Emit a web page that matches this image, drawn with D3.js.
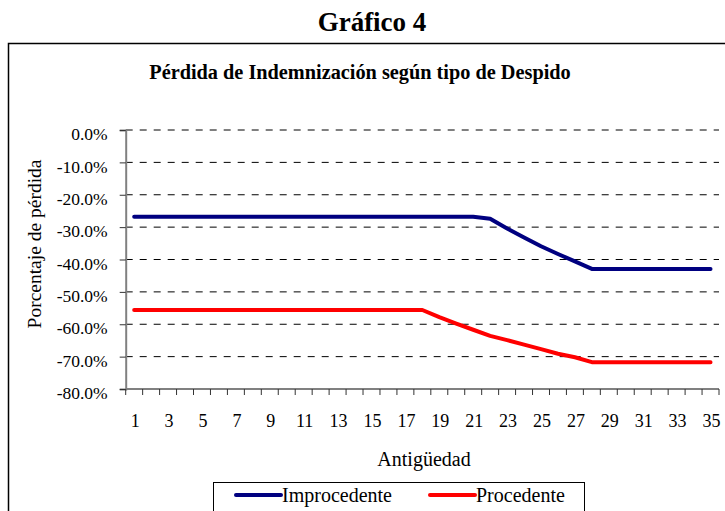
<!DOCTYPE html>
<html><head><meta charset="utf-8">
<script src="https://cdn.jsdelivr.net/npm/d3@7/dist/d3.min.js"></script>
<style>body{margin:0;background:#fff}svg{display:block}text{font-family:"Liberation Serif","Times New Roman",serif}</style>
</head><body>
<svg id="c" width="725" height="511"></svg>
<script>
const categories = d3.range(1, 36);
const improcedente = [-26.8,-26.8,-26.8,-26.8,-26.8,-26.8,-26.8,-26.8,-26.8,-26.8,-26.8,-26.8,-26.8,-26.8,-26.8,-26.8,-26.8,-26.8,-26.8,-26.8,-26.8,-27.4,-30.4,-33.2,-35.9,-38.3,-40.6,-42.9,-42.9,-42.9,-42.9,-42.9,-42.9,-42.9,-42.9];
const procedente = [-55.6,-55.6,-55.6,-55.6,-55.6,-55.6,-55.6,-55.6,-55.6,-55.6,-55.6,-55.6,-55.6,-55.6,-55.6,-55.6,-55.6,-55.6,-57.8,-59.8,-61.7,-63.6,-64.9,-66.3,-67.7,-69.1,-70.2,-71.7,-71.7,-71.7,-71.7,-71.7,-71.7,-71.7,-71.7];
const yTicks = [0,-10,-20,-30,-40,-50,-60,-70,-80];
const xTickLabels = categories.filter(d => d % 2 === 1);
const seriesNames = ["Improcedente","Procedente"];
const seriesColors = ["#000080","#ff0000"];
const FONT = "Liberation Serif";

const svg = d3.select("#c");
svg.append("rect").attr("x",8.5).attr("y",43.5).attr("width",740).attr("height",500)
  .attr("fill","none").attr("stroke","#000").attr("stroke-width",1.5);

svg.append("text").attr("x",372).attr("y",31).attr("text-anchor","middle").attr("font-family",FONT)
  .attr("font-weight","bold").attr("font-size",27).text("Gráfico 4");
svg.append("text").attr("x",360).attr("y",79).attr("text-anchor","middle").attr("font-family",FONT)
  .attr("font-weight","bold").attr("font-size",20.3).text("Pérdida de Indemnización según tipo de Despido");

const L = 125.7, R = 719, T = 130, B = 389;
const x = d3.scaleBand().domain(categories).range([L, R]);
const y = d3.scaleLinear().domain([-80, 0]).range([B, T]);

svg.append("g").selectAll("line").data(yTicks.filter(d => d !== -80)).join("line")
  .attr("x1", L).attr("x2", R).attr("y1", d => y(d)).attr("y2", d => y(d))
  .attr("stroke","#000").attr("stroke-width",1).attr("stroke-dasharray","7,7");

const yAxis = d3.axisLeft(y).tickValues(yTicks).tickSize(6).tickPadding(12)
  .tickFormat(d => d.toFixed(1) + "%");
const gy = svg.append("g").attr("transform",`translate(${L},0)`).call(yAxis);
gy.attr("font-family", FONT);
gy.select(".domain").attr("stroke","#808080").attr("stroke-width",2);
gy.selectAll(".tick line").attr("stroke","#333");
gy.selectAll("text").attr("font-family",FONT).attr("font-size",17.5).attr("fill","#000").attr("dy","0.55em");

const gx = svg.append("g");
gx.append("line").attr("x1",L).attr("x2",R).attr("y1",B).attr("y2",B).attr("stroke","#808080").attr("stroke-width",2);
gx.selectAll("line.t").data(categories.concat([36])).join("line").attr("class","t")
  .attr("x1", d => d <= 35 ? x(d) : R).attr("x2", d => d <= 35 ? x(d) : R)
  .attr("y1", B).attr("y2", B + 6).attr("stroke","#333");
gx.selectAll("text").data(xTickLabels).join("text")
  .attr("x", d => x(d) + x.bandwidth()/2 + 1).attr("y", 427).attr("text-anchor","middle")
  .attr("font-family",FONT).attr("font-size",18).text(d => d);

svg.append("text").attr("x",424).attr("y",466).attr("text-anchor","middle").attr("font-family",FONT)
  .attr("font-size",20).text("Antigüedad");
svg.append("text").attr("transform","translate(41,244) rotate(-90)").attr("text-anchor","middle")
  .attr("font-family",FONT).attr("font-size",19.5).text("Porcentaje de pérdida");

const line = d3.line().x((d,i) => x(categories[i]) + x.bandwidth()/2).y(d => y(d));
[improcedente, procedente].forEach((s, i) => {
  svg.append("path").datum(s).attr("d", line).attr("fill","none")
    .attr("stroke", seriesColors[i]).attr("stroke-width",4).attr("stroke-linejoin","round").attr("stroke-linecap","round");
});

svg.append("rect").attr("x",213.5).attr("y",482.5).attr("width",371).attr("height",40)
  .attr("fill","#fff").attr("stroke","#000").attr("stroke-width",1);
const lx = [236, 430];
seriesNames.forEach((n, i) => {
  svg.append("line").attr("x1",lx[i]).attr("x2",lx[i]+45).attr("y1",495).attr("y2",495)
    .attr("stroke",seriesColors[i]).attr("stroke-width",4).attr("stroke-linecap","round");
  svg.append("text").attr("x",lx[i]+46).attr("y",502).attr("font-family",FONT).attr("font-size",20).text(n);
});
</script>
</body></html>
